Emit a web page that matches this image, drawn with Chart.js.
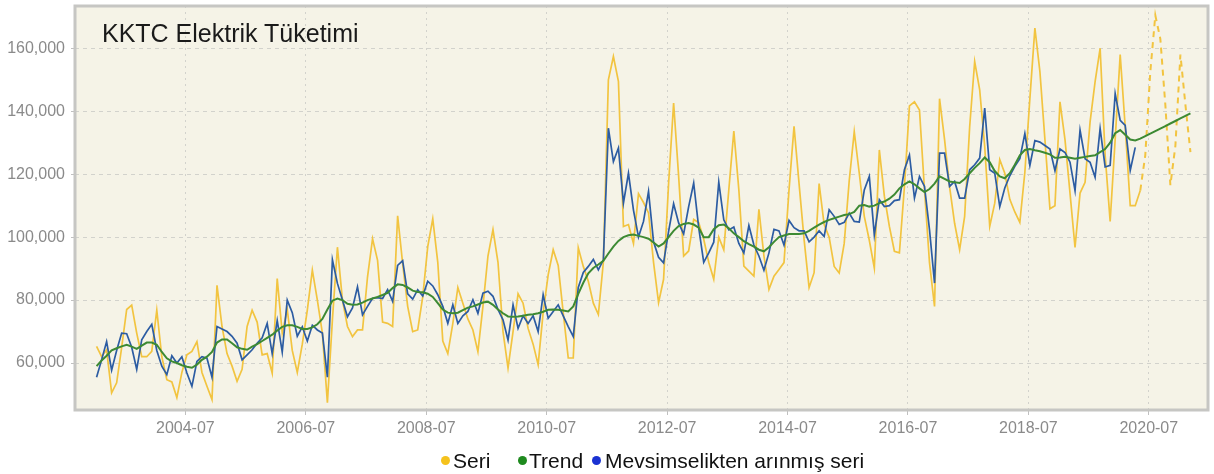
<!DOCTYPE html>
<html>
<head>
<meta charset="utf-8">
<title>KKTC Elektrik Tüketimi</title>
<script src="https://cdn.jsdelivr.net/npm/chart.js@4.4.1/dist/chart.umd.min.js"></script>
<style>
    html, body { margin: 0; padding: 0; background: #fff; }
    #wrap { position: relative; width: 1214px; height: 474px; font-family: "Liberation Sans", Arial, sans-serif; }
    #chart { position: absolute; left: 0; top: 0; }
    #title { position: absolute; left: 102px; top: 21px; font-size: 25px; line-height: 25px; color: #1a1a1a; white-space: nowrap; }
    .legText { position: absolute; top: 450px; font-size: 21px; line-height: 22px; color: #111; white-space: nowrap; }
    .legDot { position: absolute; top: 456px; width: 9px; height: 9px; border-radius: 50%; }
</style>
</head>
<body>
<div id="wrap">
    <canvas id="chart" width="1214" height="474"></canvas>
    <div id="title">KKTC Elektrik Tüketimi</div>
    <span class="legDot" style="left:441px; background:#f5c21c"></span>
    <span class="legText" style="left:453px">Seri</span>
    <span class="legDot" style="left:518px; background:#1e8a1e"></span>
    <span class="legText" style="left:529px">Trend</span>
    <span class="legDot" style="left:592px; background:#1a32d2"></span>
    <span class="legText" style="left:605px">Mevsimselikten arınmış seri</span>
</div>
<script>
// monthly values in thousands, first month is 2003-01
const startYear = 2003;

const seri = [
    65.3, 62.0, 64.2, 50.5, 53.7, 65.0, 77.0, 78.4, 69.5, 62.0, 62.0, 63.7,     // 2003
    76.8, 62.0, 54.7, 54.0, 49.0, 57.0, 62.6, 63.7, 66.8, 57.0, 52.6, 48.4,     // 2004
    84.7, 71.6, 63.0, 59.0, 54.2, 58.0, 71.6, 76.8, 73.0, 62.6, 63.0, 56.8,     // 2005
    86.8, 69.5, 77.0, 64.0, 57.0, 66.0, 76.8, 89.5, 80.0, 69.5, 47.4, 73.7,     // 2006
    96.8, 80.0, 71.6, 68.4, 70.5, 70.5, 87.4, 99.5, 92.6, 73.0, 72.6, 71.6,     // 2007
    106.8, 91.6, 78.0, 70.0, 70.5, 81.0, 97.0, 105.8, 92.0, 67.0, 63.0, 72.6,   // 2008
    84.0, 79.0, 74.0, 70.5, 63.6, 78.0, 94.0, 102.4, 92.0, 70.0, 58.4, 70.0,    // 2009
    82.0, 79.0, 71.0, 66.0, 59.5, 76.0, 88.0, 96.0, 91.0, 76.0, 61.6, 61.6,     // 2010
    96.6, 90.7, 86.0, 79.0, 75.4, 92.0, 150.0, 157.4, 149.5, 103.4, 104.0, 98.0,    // 2011
    113.8, 111.0, 107.7, 92.0, 79.2, 86.6, 117.0, 142.6, 119.4, 94.0, 95.6, 105.6,  // 2012
    104.6, 99.3, 92.0, 86.6, 100.0, 96.0, 115.0, 133.7, 115.0, 90.8, 89.2, 87.6,    // 2013
    108.8, 94.0, 83.4, 87.6, 89.7, 91.9, 115.0, 135.2, 117.0, 99.3, 84.0, 88.7,     // 2014
    117.0, 104.0, 100.0, 90.7, 88.6, 98.0, 118.0, 133.5, 120.3, 106.6, 99.0, 90.2,  // 2015
    127.7, 113.0, 103.4, 95.5, 95.0, 116.0, 141.7, 143.0, 140.4, 115.0, 91.8, 78.0, // 2016
    144.0, 131.0, 116.0, 104.4, 96.0, 106.6, 135.0, 155.8, 146.8, 128.8, 103.4, 110.8, // 2017
    124.6, 120.3, 112.0, 108.0, 104.7, 120.6, 144.0, 166.4, 152.6, 131.0, 109.0, 110.0, // 2018
    143.0, 131.0, 114.0, 96.7, 114.0, 117.4, 136.6, 149.4, 160.0, 126.0, 105.0, 131.0,  // 2019
    158.0, 135.0, 110.0, 110.0, 114.8                                                   // 2020
];

// forecast of the series (dashed), starts at the last observed month
const tahminStart = 208;
const tahmin = [114.8, 126.0, 152.5, 170.5, 163.0, 142.0, 116.5, 129.0, 158.0, 142.0, 127.0];

const trend = [
    59.0, 60.8, 62.3, 64.0, 64.7, 65.3, 65.8, 65.2, 64.5, 65.5, 66.5, 66.5,
    65.8, 63.5, 61.5, 60.5, 60.0, 59.3, 58.8, 58.5, 59.5, 61.0, 62.0, 63.5,
    66.5, 67.5, 67.5, 66.3, 65.0, 64.5, 64.2, 65.2, 66.0, 67.0, 68.0, 69.0,
    70.3, 71.5, 72.0, 72.0, 71.5, 70.8, 70.8, 71.3, 72.3, 74.0, 77.0, 79.8,
    80.5, 80.0, 78.8, 78.5, 78.6, 79.2, 80.0, 80.5, 81.0, 81.6, 82.3, 83.8,
    85.0, 84.8, 84.0, 83.0, 82.6, 82.5, 82.0, 81.0, 79.0, 77.0, 76.0, 75.8,
    76.0, 76.8, 77.6, 78.0, 78.6, 79.2, 79.5, 78.5, 77.0, 75.8, 74.8, 74.7,
    74.8, 75.0, 75.3, 75.5, 75.8, 76.3, 76.9, 77.0, 76.9, 76.7, 76.4, 78.0,
    82.0, 85.5, 88.5, 90.2, 91.3, 92.5, 94.8, 97.0, 98.8, 100.0, 100.6, 100.8,
    100.4, 100.0, 99.5, 98.3, 97.0, 98.0, 100.0, 102.0, 103.5, 104.2, 104.5, 104.0,
    103.0, 100.0, 100.0, 102.5, 103.8, 104.0, 102.8, 101.2, 100.0, 98.7, 97.8, 97.0,
    96.0, 95.5, 96.8, 98.5, 100.0, 100.5, 101.0, 101.0, 101.0, 101.2, 102.0, 103.0,
    104.0, 104.8, 105.5, 106.0, 106.5, 107.0, 107.3, 108.0, 110.0, 110.2, 109.7, 110.0,
    110.8, 111.3, 112.2, 113.5, 115.5, 116.8, 117.7, 116.8, 115.5, 114.3, 115.3, 117.0,
    119.3, 118.5, 117.7, 117.4, 117.2, 118.5, 120.3, 122.0, 123.5, 125.3, 123.8, 121.0,
    119.3, 118.7, 120.3, 123.0, 126.0, 127.7, 128.0, 127.6, 127.3, 126.8, 126.3, 125.2,
    125.3, 125.5, 125.2, 124.9, 125.2, 125.5, 125.8, 126.0, 127.0, 128.0, 130.0, 133.0,
    134.0, 132.5, 131.0, 130.7, 131.3, 132.1, 132.9, 133.7, 134.5, 135.3, 136.1, 136.9,
    137.7, 138.5, 139.3
];

const mevsimsel = [
    55.5, 61.0, 66.8, 57.7, 64.0, 69.5, 69.3, 65.0, 58.0, 67.4, 70.0, 72.3,
    64.0, 59.0, 56.3, 62.3, 60.0, 62.0, 56.8, 52.6, 60.5, 62.0, 61.5, 55.5,
    71.6, 70.8, 70.0, 68.5, 66.3, 61.0, 62.6, 64.2, 66.3, 68.0, 72.6, 63.0,
    73.5, 63.5, 80.0, 76.0, 68.5, 71.5, 67.0, 72.0, 70.5, 69.5, 55.5, 92.8,
    85.3, 80.0, 74.7, 77.5, 84.2, 75.3, 78.0, 80.6, 80.8, 80.5, 83.3, 79.6,
    91.0, 92.5, 82.0, 80.3, 83.3, 81.3, 86.0, 84.5, 81.7, 78.0, 72.6, 78.5,
    72.6, 75.0, 76.4, 80.1, 75.8, 82.2, 82.8, 81.2, 77.0, 73.7, 67.3, 78.5,
    71.0, 75.0, 72.6, 75.0, 70.0, 81.7, 74.2, 76.4, 78.5, 75.0, 71.6, 68.4,
    84.0, 88.8, 90.7, 92.9, 89.6, 92.8, 134.6, 124.0, 128.3, 110.8, 120.3, 108.6,
    100.0, 105.0, 114.5, 98.5, 93.6, 91.8, 101.8, 110.6, 104.5, 101.0, 109.7, 117.2,
    103.0, 92.0, 95.0, 98.4, 117.5, 105.5, 102.3, 103.2, 98.0, 95.0, 103.7, 97.5,
    94.0, 89.5, 95.0, 102.5, 102.0, 97.5, 105.3, 103.0, 102.0, 102.0, 98.5, 100.0,
    102.0, 100.2, 108.7, 106.6, 104.0, 104.7, 107.6, 105.0, 104.8, 115.0, 119.3, 100.7,
    111.9, 109.7, 110.0, 111.6, 111.9, 121.4, 126.1, 112.4, 119.3, 116.1, 102.3, 85.4,
    126.7, 126.7, 116.1, 117.7, 112.4, 112.4, 121.4, 123.0, 125.1, 141.0, 121.4, 120.3,
    109.7, 115.6, 119.5, 122.5, 124.9, 132.9, 122.8, 130.7, 130.2, 129.1, 128.0, 121.1,
    128.0, 126.9, 123.8, 114.8, 134.0, 124.9, 123.8, 119.0, 134.5, 122.3, 122.8, 145.6,
    137.1, 135.5, 121.2, 128.5
];

const tickLabels = ['2004-07', '2006-07', '2008-07', '2010-07', '2012-07', '2014-07', '2016-07', '2018-07', '2020-07'];
const yTicks = [60000, 80000, 100000, 120000, 140000, 160000];

function monthIndex(label) {
    const [y, m] = label.split('-').map(Number);
    return (y - startYear) * 12 + (m - 1);
}

const toPoints = (arr, start = 0) => arr.map((v, i) => ({ x: start + i, y: v * 1000 }));

const axisFont = { family: '"Liberation Sans", Arial, sans-serif', size: 16 };

// cream panel behind the plot and grey frame around it
const panel = {
    id: 'panel',
    beforeDraw(chart) {
        const { ctx, chartArea: a } = chart;
        ctx.save();
        ctx.fillStyle = '#f5f3e7';
        ctx.fillRect(a.left, a.top, a.right - a.left, a.bottom - a.top);
        ctx.restore();
    },
    afterDraw(chart) {
        const { ctx, chartArea: a } = chart;
        ctx.save();
        ctx.strokeStyle = '#c6c6c3';
        ctx.lineWidth = 3;
        ctx.strokeRect(a.left, a.top, a.right - a.left, a.bottom - a.top);
        ctx.restore();
    }
};

// keep the plot box fixed: no extra room for label overhang
const noOverhang = (s) => {
    s.paddingTop = 0;
    s.paddingBottom = 0;
    s.paddingLeft = 0;
    s.paddingRight = 0;
};

new Chart(document.getElementById('chart'), {
    type: 'line',
    data: {
        datasets: [
            { label: 'Trend', data: toPoints(trend), borderColor: '#3d8a33', borderWidth: 2, order: 0 },
            { label: 'Mevsimselikten arınmış seri', data: toPoints(mevsimsel), borderColor: '#2c5ca2', borderWidth: 1.7, order: 1 },
            { label: 'Seri', data: toPoints(seri), borderColor: '#f2c440', borderWidth: 1.7, order: 2 },
            { label: 'Tahmin', data: toPoints(tahmin, tahminStart), borderColor: '#f2c440', borderWidth: 2, borderDash: [6, 5], order: 3 }
        ]
    },
    options: {
        responsive: false,
        animation: false,
        layout: { padding: { left: 0, right: 6, top: 6, bottom: 29 } },
        elements: { point: { radius: 0 }, line: { tension: 0 } },
        plugins: {
            legend: { display: false },
            tooltip: { enabled: false }
        },
        scales: {
            x: {
                type: 'linear',
                min: -4.3,
                max: 221.5,
                afterBuildTicks: (s) => { s.ticks = tickLabels.map(l => ({ value: monthIndex(l) - 0.3 })); },
                afterFit: (s) => { s.height = 35; noOverhang(s); },
                ticks: {
                    autoSkip: false,
                    maxRotation: 0,
                    padding: 4,
                    color: '#8a8a8a',
                    font: axisFont,
                    callback: (v, i) => tickLabels[i]
                },
                grid: { color: '#d2d2cc', tickColor: '#c0c0c0', tickLength: 5 },
                border: { display: false, dash: [2, 4] }
            },
            y: {
                min: 45070,
                max: 173440,
                afterBuildTicks: (s) => { s.ticks = yTicks.map(v => ({ value: v })); },
                afterFit: (s) => { s.width = 75; noOverhang(s); },
                ticks: {
                    autoSkip: false,
                    padding: 6,
                    color: '#8a8a8a',
                    font: axisFont,
                    callback: (v, i) => yTicks[i].toLocaleString('en-US')
                },
                grid: { color: '#d2d2cc', tickColor: '#c0c0c0', tickLength: 4 },
                border: { display: false, dash: [4, 4] }
            }
        }
    },
    plugins: [panel]
});
</script>
</body>
</html>
